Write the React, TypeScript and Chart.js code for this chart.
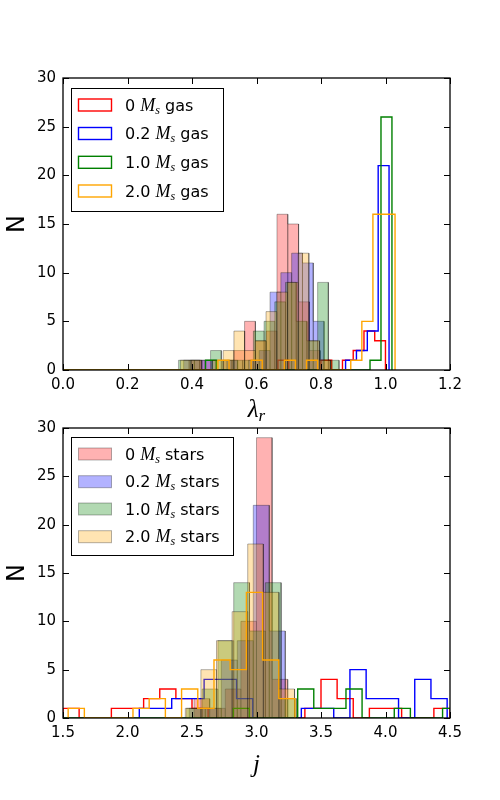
import React, { useEffect, useRef } from "react";
import { Chart, registerables } from "chart.js";

Chart.register(...registerables);
Chart.defaults.font.family = "'DejaVu Sans'";
Chart.defaults.color = "#000";

// ---------------- data ----------------
const seriesNames = ["0", "0.2", "1.0", "2.0"];
const lineColors = ["#ff0000", "#0000ff", "#008000", "#ffa500"];
const fillColors = ["rgba(255,0,0,0.3)", "rgba(0,0,255,0.3)", "rgba(0,128,0,0.3)", "rgba(255,165,0,0.3)"];
const edgeColor = "rgba(0,0,0,0.3)";

const countTicks = [0, 5, 10, 15, 20, 25, 30];
const lamTicks = [0, 0.2, 0.4, 0.6, 0.8, 1.0, 1.2];
const jTicks = [1.5, 2.0, 2.5, 3.0, 3.5, 4.0, 4.5];

// lambda_r, stars (filled, unlabeled)
const lamStarStart = [0.362, 0.374, 0.358, 0.364];
const lamStarWidth = [0.0335, 0.0335, 0.0332, 0.0332];
const lamStar0 = [0, 1, 1, 0, 1, 2, 5, 3, 4, 16, 15, 7, 2, 1];
const lamStar02 = [1, 1, 1, 0, 1, 0, 1, 2, 8, 10, 12, 11, 5];
const lamStar10 = [1, 1, 0, 2, 1, 1, 1, 4, 5, 7, 9, 5, 3, 9, 1];
const lamStar20 = [1, 1, 0, 1, 2, 4, 2, 3, 6, 8, 9, 12, 3, 1];

// lambda_r, gas (step, labeled)
const lamGasStart = [0, 0, 0, 0];
const lamGasWidth = [0.03333, 0.0337, 0.034, 0.03432];
const lamGas0 = [0, 0, 0, 0, 0, 0, 0, 0, 0, 0, 0, 0, 0, 0, 0, 0, 0, 0, 0, 0, 1, 0, 0, 0, 1, 0, 1, 2, 4, 3];
const lamGas02 = [0, 0, 0, 0, 0, 0, 0, 0, 0, 0, 0, 0, 0, 0, 0, 0, 0, 0, 0, 0, 0, 0, 0, 0, 0, 0, 1, 2, 4, 21];
const lamGas10 = [0, 0, 0, 0, 0, 0, 0, 0, 0, 0, 0, 0, 0, 1, 0, 0, 0, 0, 0, 0, 0, 0, 0, 0, 0, 0, 0, 0, 1, 26];
const lamGas20 = [0, 0, 0, 0, 0, 0, 0, 0, 0, 0, 0, 0, 0, 0, 1, 0, 0, 1, 0, 0, 1, 0, 1, 0, 0, 0, 1, 5, 16, 16];

// j, stars (filled, labeled)
const jStarStart = [2.516, 2.479, 2.456, 2.448];
const jStarWidth = [0.121, 0.124, 0.1225, 0.121];
const jStar0 = [2, 1, 3, 10, 29, 4];
const jStar02 = [1, 1, 6, 8, 22, 9];
const jStar10 = [1, 3, 8, 14, 9, 14, 2];
const jStar20 = [1, 5, 8, 11, 18, 13, 3];

// j, gas (step, unlabeled)
const jGasStart = [1.5, 2.0915, 1.4472, 1.54];
const jGasWidth = [0.125, 0.1256, 0.1248, 0.1256];
const jGas0 = [1, 0, 0, 1, 1, 2, 3, 2, 1, 0, 0, 0, 0, 0, 0, 1, 4, 2, 0, 1, 1, 0, 0, 1];
const jGas02 = [1, 1, 2, 2, 4, 4, 2, 0, 0, 0, 1, 1, 0, 5, 2, 2, 0, 4, 2];
const jGas10 = [0, 0, 0, 0, 0, 0, 0, 0, 0, 0, 0, 1, 0, 0, 0, 3, 1, 1, 3, 0, 0, 1, 0, 0, 1];
const jGas20 = [1, 0, 0, 0, 1, 2, 0, 3, 1, 6, 5, 13, 6, 2];

const lamStars = [lamStar0, lamStar02, lamStar10, lamStar20];
const lamGas = [lamGas0, lamGas02, lamGas10, lamGas20];
const jStars = [jStar0, jStar02, jStar10, jStar20];
const jGas = [jGas0, jGas02, jGas10, jGas20];

// ---------------- helpers ----------------
type P = { x: number; y: number };

function barOutline(start: number, width: number, counts: number[]): P[] {
  const pts: P[] = [];
  counts.forEach((c, i) => {
    if (c <= 0) return;
    const l = start + i * width;
    const r = l + width;
    pts.push({ x: l, y: 0 }, { x: l, y: c }, { x: r, y: c }, { x: r, y: 0 });
  });
  return pts;
}

function stepOutline(start: number, width: number, counts: number[]): P[] {
  const pts: P[] = [{ x: start, y: 0 }];
  counts.forEach((c, i) => {
    const l = start + i * width;
    pts.push({ x: l, y: c }, { x: l + width, y: c });
  });
  pts.push({ x: start + counts.length * width, y: 0 });
  return pts;
}

function buildDatasets(
  starStart: number[], starWidth: number[], stars: number[][],
  gasStart: number[], gasWidth: number[], gas: number[][]
) {
  const ds: any[] = [];
  for (let i = 0; i < 4; i++) {
    ds.push({
      data: barOutline(starStart[i], starWidth[i], stars[i]),
      showLine: true,
      borderColor: edgeColor,
      borderWidth: 1,
      backgroundColor: fillColors[i],
      fill: "origin",
      pointRadius: 0,
      pointHoverRadius: 0,
      tension: 0,
      borderJoinStyle: "miter",
    });
    ds.push({
      data: stepOutline(gasStart[i], gasWidth[i], gas[i]),
      showLine: true,
      borderColor: lineColors[i],
      borderWidth: 1.4,
      backgroundColor: "rgba(0,0,0,0)",
      fill: false,
      pointRadius: 0,
      pointHoverRadius: 0,
      tension: 0,
      borderJoinStyle: "miter",
    });
  }
  ds.forEach((d, idx) => (d.order = 100 - idx));
  return ds;
}

type Part = { t: string; f: string; dy?: number };

function drawRich(ctx: CanvasRenderingContext2D, x: number, y: number, parts: Part[], align: "left" | "center") {
  ctx.textBaseline = "alphabetic";
  ctx.textAlign = "left";
  let total = 0;
  for (const p of parts) {
    ctx.font = p.f;
    total += ctx.measureText(p.t).width;
  }
  let cx = align === "center" ? x - total / 2 : x;
  for (const p of parts) {
    ctx.font = p.f;
    ctx.fillText(p.t, cx, y + (p.dy || 0));
    cx += ctx.measureText(p.t).width;
  }
}

const SANS16 = "16px 'DejaVu Sans'";
const MATH_M = "italic 18px 'Liberation Serif'";
const MATH_SUB = "italic 12px 'Liberation Serif'";

function makeDecor(cfg: any) {
  return {
    id: "decor",
    afterDraw(chart: any) {
      const { ctx, chartArea: a } = chart;
      const xs = chart.scales.x;
      const ys = chart.scales.y;
      ctx.save();
      // frame
      ctx.strokeStyle = "#000";
      ctx.lineWidth = 1.3;
      ctx.strokeRect(a.left, a.top, a.right - a.left, a.bottom - a.top);
      // inward ticks on all sides
      ctx.lineWidth = 1;
      ctx.beginPath();
      for (const v of cfg.xTicks) {
        const p = Math.round(xs.getPixelForValue(v)) + 0.5;
        ctx.moveTo(p, a.bottom);
        ctx.lineTo(p, a.bottom - 6);
        ctx.moveTo(p, a.top);
        ctx.lineTo(p, a.top + 6);
      }
      for (const v of cfg.yTicks) {
        const p = Math.round(ys.getPixelForValue(v)) + 0.5;
        ctx.moveTo(a.left, p);
        ctx.lineTo(a.left + 6, p);
        ctx.moveTo(a.right, p);
        ctx.lineTo(a.right - 6, p);
      }
      ctx.stroke();

      // legend
      const L = cfg.legend;
      ctx.fillStyle = "#fff";
      ctx.fillRect(L.x, L.y, L.w, L.h);
      ctx.strokeStyle = "#000";
      ctx.lineWidth = 1;
      ctx.strokeRect(L.x + 0.5, L.y + 0.5, L.w, L.h);
      L.rows.forEach((cy: number, i: number) => {
        const hx = 78.5, hw = 33, hh = 12;
        if (L.kind === "step") {
          ctx.strokeStyle = lineColors[i];
          ctx.lineWidth = 1.4;
          ctx.strokeRect(hx, cy - 6, hw, hh);
        } else {
          ctx.fillStyle = fillColors[i];
          ctx.fillRect(hx, cy - 6, hw, hh);
          ctx.strokeStyle = edgeColor;
          ctx.lineWidth = 1;
          ctx.strokeRect(hx, cy - 6, hw, hh);
        }
        ctx.fillStyle = "#000";
        drawRich(ctx, 125, cy + 5.7, [
          { t: seriesNames[i] + " ", f: SANS16 },
          { t: "M", f: MATH_M },
          { t: "s", f: MATH_SUB, dy: 3 },
          { t: " " + L.suffix, f: SANS16 },
        ], "left");
      });

      // axis titles
      ctx.fillStyle = "#000";
      drawRich(ctx, (a.left + a.right) / 2, cfg.xTitleY, cfg.xTitle, "center");
      ctx.save();
      ctx.translate(17.5, (a.top + a.bottom) / 2);
      ctx.rotate(-Math.PI / 2);
      ctx.font = "24px 'DejaVu Sans'";
      ctx.textAlign = "center";
      ctx.textBaseline = "middle";
      ctx.fillText("N", 0, 0);
      ctx.restore();
      ctx.restore();
    },
  };
}

function makeOptions(xMin: number, xMax: number, xStep: number, padTop: number, xAxisH: number) {
  return {
    animation: false,
    responsive: false,
    events: [],
    layout: { padding: { left: 0, right: 50, top: padTop, bottom: 0 } },
    plugins: { legend: { display: false }, tooltip: { enabled: false } },
    scales: {
      x: {
        type: "linear",
        min: xMin,
        max: xMax,
        grid: { display: false, drawTicks: false },
        border: { display: false },
        ticks: {
          stepSize: xStep,
          autoSkip: false,
          maxRotation: 0,
          padding: 6,
          color: "#000",
          font: { size: 15, family: "'DejaVu Sans'" },
          callback: (v: any) => Number(v).toFixed(1),
        },
        afterFit: (s: any) => {
          s.height = xAxisH;
        },
      },
      y: {
        type: "linear",
        min: 0,
        max: 30,
        grid: { display: false, drawTicks: false },
        border: { display: false },
        ticks: {
          stepSize: 5,
          padding: 7,
          color: "#000",
          font: { size: 15, family: "'DejaVu Sans'" },
        },
        afterFit: (s: any) => {
          s.width = 63;
        },
      },
    },
  };
}

export default function App() {
  const topRef = useRef<HTMLCanvasElement | null>(null);
  const botRef = useRef<HTMLCanvasElement | null>(null);

  useEffect(() => {
    document.body.style.margin = "0";
    const top = new Chart(topRef.current as HTMLCanvasElement, {
      type: "scatter",
      data: { datasets: buildDatasets(lamStarStart, lamStarWidth, lamStars, lamGasStart, lamGasWidth, lamGas) },
      options: makeOptions(0, 1.2, 0.2, 78, 55) as any,
      plugins: [
        makeDecor({
          xTicks: lamTicks,
          yTicks: countTicks,
          legend: { x: 71, y: 88, w: 152, h: 123, rows: [105, 133.5, 162.3, 191], kind: "step", suffix: "gas" },
          xTitleY: 417,
          xTitle: [
            { t: "λ", f: "italic 25px 'Liberation Serif'" },
            { t: "r", f: "italic 17px 'Liberation Serif'", dy: 4 },
          ],
        }),
      ],
    });
    const bot = new Chart(botRef.current as HTMLCanvasElement, {
      type: "scatter",
      data: { datasets: buildDatasets(jStarStart, jStarWidth, jStars, jGasStart, jGasWidth, jGas) },
      options: makeOptions(1.5, 4.5, 0.5, 28, 82) as any,
      plugins: [
        makeDecor({
          xTicks: jTicks,
          yTicks: countTicks,
          legend: { x: 71, y: 37, w: 162, h: 118, rows: [54, 81.7, 109, 136.7], kind: "fill", suffix: "stars" },
          xTitleY: 372,
          xTitle: [{ t: "j", f: "italic 25px 'Liberation Serif'" }],
        }),
      ],
    });
    return () => {
      top.destroy();
      bot.destroy();
    };
  }, []);

  return (
    <div style={{ position: "relative", width: 500, height: 800, background: "#fff" }}>
      <canvas ref={topRef} width={500} height={425} style={{ position: "absolute", left: 0, top: 0, width: 500, height: 425 }} />
      <canvas ref={botRef} width={500} height={400} style={{ position: "absolute", left: 0, top: 400, width: 500, height: 400 }} />
    </div>
  );
}
